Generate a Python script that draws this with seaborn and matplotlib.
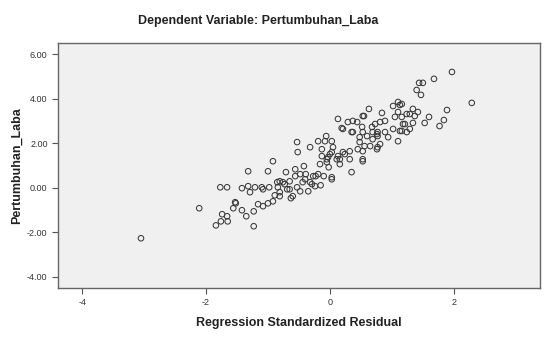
import pandas as pd
import seaborn as sns
import matplotlib.pyplot as plt

# 산점도 데이터 (Regression Standardized Residual vs Pertumbuhan_Laba)
residual = [
    -3.05, -2.11, -1.84, -1.76, -1.74, -1.66, -1.65, -1.56, -1.52, -1.42,
    -1.35, -1.23, -1.23, -1.16, -1.08, -1.00, -1.53, -1.77, -1.66, -1.42,
    -1.32, -1.29, -1.32, -1.21, -1.10, -0.98, -1.00, -0.92, -0.85, -0.84,
    -0.89, -0.81, -0.69, -0.71, -0.63, -0.56, -0.53, -0.48, -0.42, -0.39,
    -0.29, -0.23, -0.15, -0.10, -0.53, -0.52, -0.32, -0.19, -0.13, -0.06,
    -0.05, -0.02, 0.03, 0.05, 0.13, 0.16, 0.21, 0.24, 0.32, 0.35,
    0.37, 0.44, 0.48, 0.53, 0.53, 0.56, 0.63, 0.68, 0.69, 0.76,
    0.77, 1.97, 1.68, 1.44, 1.50, 1.40, 1.47, 2.29, 1.89, 1.84,
    1.77, 1.60, 1.53, 1.10, 1.13, 1.02, 0.84, 1.10, 1.05, 1.16,
    1.34, 1.42, 1.29, 0.37, 0.29, 0.19, 0.55, 0.52, 0.81, 0.89,
    1.21, 1.34, 1.29, 1.13, 1.02, 0.94, 1.10, 0.77, 0.60, 0.45,
    0.65, 0.76, 0.81, 0.21, 0.03, 0.53, 0.03, -0.13, -0.05, -0.48,
    -0.40, -0.27, -0.19, -0.32, -1.08, -0.81, -0.73, -0.65, -0.81, -0.92,
    0.73, 0.35, 0.53, 0.69, 0.77, 0.89, 1.16, 1.24, 0.48, 0.53,
    -0.08, 0.03, -0.03, 0.11, 0.32, 0.16, 1.37, 1.24, 1.16, 1.18,
    0.00, 0.13, -0.16, -0.56, -0.76, -0.65, -0.44, -0.24, -0.35, -0.60,
]
laba = [
    -2.27, -0.92, -1.69, -1.51, -1.19, -1.28, -1.51, -0.92, -0.70, -1.01,
    -1.28, -1.73, -1.06, -0.74, -0.83, -0.70, -0.65, 0.02, 0.02, -0.02,
    0.07, -0.20, 0.74, 0.02, 0.02, 0.02, 0.74, 1.19, 0.25, 0.02,
    -0.34, -0.20, -0.07, 0.70, -0.47, 0.83, 0.02, -0.16, 0.97, 0.61,
    0.16, 0.52, 0.11, 0.52, 2.05, 1.60, 1.82, 2.09, 1.42, 2.32,
    1.28, 0.92, 0.47, 1.82, 3.09, 1.28, 2.64, 1.51, 1.64, 0.70,
    2.50, 2.95, 2.27, 1.28, 3.22, 1.87, 3.54, 2.73, 2.18, 2.41,
    1.82, 5.20, 4.89, 4.71, 4.71, 4.39, 4.17, 3.81, 3.49, 3.04,
    2.77, 3.18, 2.91, 3.85, 3.72, 3.67, 3.36, 3.40, 3.18, 3.18,
    3.54, 3.40, 3.31, 3.00, 2.95, 2.68, 3.22, 2.73, 2.95, 3.00,
    2.86, 2.91, 2.64, 2.55, 2.64, 2.27, 2.09, 2.50, 2.32, 1.73,
    1.87, 1.73, 1.96, 1.60, 1.60, 1.19, 0.38, 1.73, 1.15, 0.61,
    0.38, 0.52, 0.61, 0.25, -0.07, 0.29, 0.16, -0.07, -0.38, -0.61,
    2.86, 2.50, 2.50, 2.50, 2.32, 2.50, 2.55, 2.50, 2.05, 1.64,
    2.09, 2.09, 1.37, 1.28, 1.28, 1.06, 3.22, 3.31, 3.76, 2.86,
    1.51, 1.42, 1.06, 0.52, 0.25, 0.29, 0.25, 0.07, -0.16, -0.38,
]
x_ticks = [-4, -2, 0, 2]
y_ticks = [-4, -2, 0, 2, 4, 6]

df = pd.DataFrame({'Residual': residual, 'Pertumbuhan_Laba': laba})

sns.set_style('white')
plt.rcParams['font.family'] = ['Liberation Sans', 'DejaVu Sans']

fig = plt.figure(figsize=(5.47, 3.44), dpi=100)
ax = fig.add_axes([0.106, 0.163, 0.881, 0.712])
ax.set_facecolor('#f0f0f0')

sns.scatterplot(data=df, x='Residual', y='Pertumbuhan_Laba', ax=ax,
                marker='o', s=16, facecolor='none', edgecolor='#3a3a3a',
                linewidth=0.75)

ax.set_xlim(-4.39, 3.39)
ax.set_ylim(-4.5, 6.5)
ax.set_xticks(x_ticks)
ax.set_xticklabels([str(t) for t in x_ticks])
ax.set_yticks(y_ticks)
ax.set_yticklabels([f'{t:.2f}' for t in y_ticks])
ax.tick_params(axis='both', direction='out', length=4, width=0.8,
               colors='#555555', labelsize=6.5, labelcolor='#333333',
               bottom=True, left=True)

for sp in ax.spines.values():
    sp.set_color('#666666')
    sp.set_linewidth(1.0)

ax.set_xlabel('Regression Standardized Residual', fontsize=9,
              fontweight='bold', color='#222222', labelpad=7)
ax.set_ylabel('Pertumbuhan_Laba', fontsize=9, fontweight='bold',
              color='#222222', labelpad=3)

fig.text(0.472, 0.938, 'Dependent Variable: Pertumbuhan_Laba',
         ha='center', va='center', fontsize=9, fontweight='bold',
         color='#222222')

plt.savefig('out.png', dpi=100)
